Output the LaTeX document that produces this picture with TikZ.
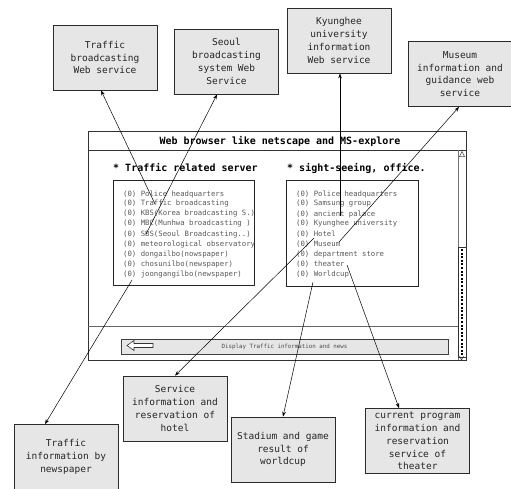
\documentclass[tikz,border=0pt]{standalone}
\usepackage{fontspec}
\setmonofont{DejaVu Sans Mono}
\usepackage{tikz}
\usetikzlibrary{arrows.meta,calc}
\definecolor{boxgray}{HTML}{E6E6E6}
\definecolor{edgegray}{HTML}{2B2B2B}

\begin{document}
\begin{tikzpicture}[
    x=1pt, y=-1pt,
    svcbox/.style={draw=edgegray,fill=boxgray,line width=0.8pt,minimum width=104pt,minimum height=65pt,
                   inner sep=0.5pt,align=center,text=black!85,font=\fontsize{9.5}{12.8}\selectfont\ttfamily},
    winline/.style={draw=black!80,line width=0.8pt},
    listbox/.style={draw=black!85,line width=0.7pt},
    listitem/.style={anchor=west,inner sep=0pt,text=black!65,font=\fontsize{7.3}{8}\selectfont\ttfamily},
    heading/.style={anchor=west,inner sep=0pt,font=\fontsize{10}{12}\selectfont\ttfamily\bfseries},
    link/.style={-{Stealth[length=5pt,width=3.6pt]},black,line width=0.5pt},
  ]
  \useasboundingbox (0,0) rectangle (511,488);
  \clip (0,0) rectangle (511,488);

  % services around the browser
  \node[svcbox] (tbroad)  at (105,57.5)  {Traffic\\broadcasting\\Web service};
  \node[svcbox] (seoul)   at (226.5,61.5) {Seoul\\broadcasting\\system Web\\Service};
  \node[svcbox] (kyung)   at (339,40.5)  {Kyunghee\\university\\information\\Web service};
  \node[svcbox] (museum)  at (460,74)    {Museum\\information and\\guidance web\\service};
  \node[svcbox] (npaper)  at (66,457)    {Traffic\\information by\\newspaper};
  \node[svcbox] (hotel)   at (175,408.5) {Service\\information and\\reservation of\\hotel};
  \node[svcbox] (stadium) at (283,449.5) {Stadium and game\\result of\\worldcup};
  \node[svcbox] (theat)   at (417.5,441) {current program\\information and\\reservation\\service of\\theater};

  % browser window
  \draw[winline] (88,131) rectangle (466,360);
  \draw[winline] (88,150) -- (466,150);
  \node[heading,anchor=center] (title) at (280,141) {Web browser like netscape and MS-explore};
  \draw[black!55,line width=0.8pt] (458,150) -- (458,360);
  \draw[black!70,line width=0.5pt] (459.5,156.5) -- (462,151.5) -- (464.5,156.5) -- cycle;
  \draw[black!80,line width=0.6pt] (458.5,247) rectangle (466,357);
  \draw[black,line width=2.2pt,dash pattern=on 2pt off 1.6pt] (462.2,249) -- (462.2,355);
  \draw[black!80,line width=0.5pt] (459.5,356) -- (461.5,360) -- (463.5,356);
  \draw[black!60,line width=0.8pt] (88,326) -- (458,326);
  \node[draw=black!75,fill=boxgray,line width=0.8pt,minimum width=327pt,minimum height=15pt,inner sep=0pt,
        text=black!70,font=\fontsize{5.8}{7}\selectfont\ttfamily] (status) at (284.5,346.5)
        {Display Traffic information and news};
  \draw[black!80,fill=white,line width=0.6pt] (127,345.5) -- (134,340.5) -- (134,343.5) -- (153,343.5)
        -- (153,347.5) -- (134,347.5) -- (134,350.5) -- cycle;

  % two server lists
  \node[heading] (thead) at (113,168) {* Traffic related server};
  \node[heading] (shead) at (287,168) {* sight-seeing, office.};
  \draw[listbox] (113,180) rectangle (254,285);
  \draw[listbox] (286,180) rectangle (418,286);
  \foreach \txt [count=\i] in {Police headquarters,Traffic broadcasting,KBS(Korea broadcasting S.),
      MBC(Munhwa broadcasting ),SBS(Seoul Broadcasting..),meteorological observatory,
      dongailbo(nowspaper),chosunilbo(newspaper),joongangilbo(newspaper)}
    \node[listitem] (ltr\i) at (123,184+10*\i) {(0) \txt};
  \foreach \txt [count=\i] in {Police headquarters,Samsung group,ancient palace,Kyunghee university,
      Hotel,Museum,department store,theater,Worldcup}
    \node[listitem] (rsi\i) at (296,184+10*\i) {(0) \txt};

  \coordinate (fromTB)  at ($(ltr2.west)+(32,0)$);
  \coordinate (fromSBS) at ($(ltr5.west)+(23,0)$);
  \coordinate (fromJA)  at ($(ltr9.west)+(9,6)$);
  \coordinate (fromPal) at ($(rsi3.west)+(44,2)$);
  \coordinate (fromMus) at ($(rsi6.west)+(43,-2)$);
  \coordinate (fromHot) at ($(rsi5.west)+(18,4)$);
  \coordinate (fromTh)  at ($(rsi8.west)+(51,1)$);
  \coordinate (fromWc)  at ($(rsi9.west)+(17,8)$);

  \draw[link] (fromTB)  -- ([xshift=-4pt]tbroad.south);
  \draw[link] (fromSBS) -- ([xshift=-9.5pt]seoul.south);
  \draw[link] (fromPal) -- ([xshift=1pt]kyung.south);
  \draw[link] (fromMus) -- ([xshift=-1pt]museum.south);
  \draw[link] (fromJA)  -- ([xshift=-21pt]npaper.north);
  \draw[link] (fromHot) -- (hotel.north);
  \draw[link] (fromWc)  -- (stadium.north);
  \draw[link] (fromTh)  -- ([xshift=-18.5pt]theat.north);
\end{tikzpicture}
\end{document}
